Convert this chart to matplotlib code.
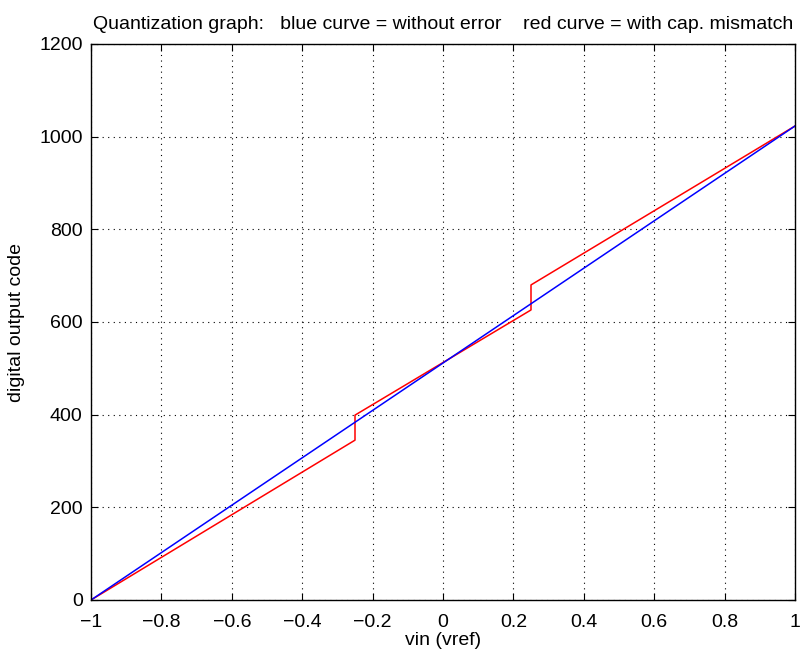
import matplotlib
matplotlib.use("Agg")
import matplotlib.pyplot as plt
import numpy as np

# Data
blue_x = [-1.0, 1.0]
blue_y = [0, 1023]
red_x = [-1.0, -0.25, -0.25, 0.25, 0.25, 1.0]
red_y = [0, 345, 399, 626, 680, 1023]
xticks = [-1, -0.8, -0.6, -0.4, -0.2, 0, 0.2, 0.4, 0.6, 0.8, 1]
xticklabels = ["\u22121", "\u22120.8", "\u22120.6", "\u22120.4", "\u22120.2", "0", "0.2", "0.4", "0.6", "0.8", "1"]
yticks = [0, 200, 400, 600, 800, 1000, 1200]

plt.rcParams['font.family'] = ['Liberation Sans', 'DejaVu Sans']
fig = plt.figure(figsize=(8.1, 6.55), dpi=100)
ax = fig.add_axes([91/810, 55/655, (795-91)/810, (600-44)/655])

ax.plot(red_x, red_y, color='red', lw=1.1)
ax.plot(blue_x, blue_y, color='blue', lw=1.1)

ax.set_xlim(-1, 1)
ax.set_ylim(0, 1200)
ax.set_xticks(xticks)
ax.set_xticklabels(xticklabels)
ax.set_yticks(yticks)
ax.tick_params(direction='in', top=True, right=True, labelsize=14, length=5, width=0.8)
ax.tick_params(axis='y', pad=6)
ax.tick_params(axis='x', pad=10)
ax.grid(True, linestyle=(0, (1, 4)), color='black', lw=0.8)
for s in ax.spines.values():
    s.set_linewidth(1.0)

ax.set_xlabel('vin (vref)', fontsize=14, labelpad=1)
ax.set_ylabel('digital output code', fontsize=14, labelpad=10)
ax.set_title('Quantization graph:   blue curve = without error    red curve = with cap. mismatch', fontsize=14, pad=11)

fig.savefig('out.png', dpi=100)
